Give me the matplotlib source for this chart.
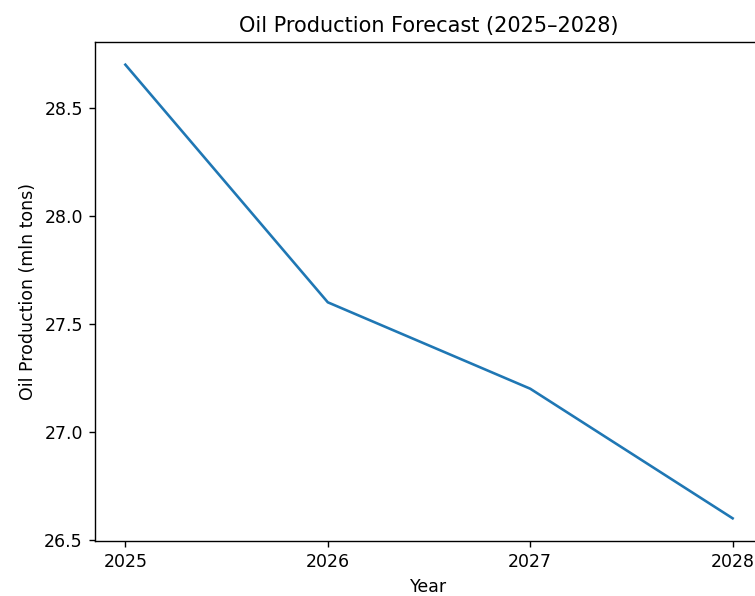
import matplotlib
matplotlib.use("Agg")
import matplotlib.pyplot as plt

# Prognose Ölförderung
years = [2025, 2026, 2027, 2028]
production = [28.7, 27.6, 27.2, 26.6]

DPI = 125
fig = plt.figure(figsize=(755 / DPI, 596 / DPI), dpi=DPI)
# Achse reicht rechts über den Bildrand hinaus (Original ist beschnitten)
ax = fig.add_axes([95 / 755, 55 / 596, 668 / 755, 499 / 596])
ax.plot(years, production)
ax.set_xticks(years)
ax.set_title('Oil Production Forecast (2025–2028)')
ax.set_xlabel('Year')
ax.set_ylabel('Oil Production (mln tons)')

fig.savefig('out.png', dpi=DPI)
